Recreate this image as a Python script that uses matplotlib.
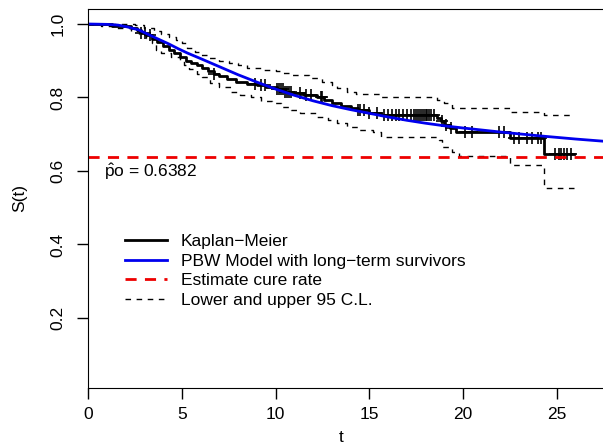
import numpy as np
import matplotlib
matplotlib.use("Agg")
import matplotlib.pyplot as plt
from matplotlib.lines import Line2D

plt.rcParams['font.family'] = ['Liberation Sans', 'DejaVu Sans']
plt.rcParams['mathtext.fontset'] = 'custom'
plt.rcParams['mathtext.rm'] = 'Liberation Sans'
plt.rcParams['mathtext.it'] = 'Liberation Sans'

# Kaplan-Meier step function (time of drop, survival after drop)
km_t = [0, 1.3, 2.3, 2.6, 2.8, 3.1, 3.4, 3.7, 4.0, 4.3, 4.6, 4.9, 5.2, 5.5, 5.8,
        6.1, 6.4, 6.7, 7.0, 7.4, 7.9, 8.5, 9.0, 9.5, 10.1, 10.5, 11.0, 11.5,
        12.2, 12.6, 13.0, 13.5, 14.0, 14.4, 15.0, 15.6, 18.6, 18.8, 19.0, 19.3,
        19.6, 22.5, 24.3, 25.9]
km_s = [1.0, 0.995, 0.99, 0.985, 0.975, 0.97, 0.96, 0.95, 0.94, 0.93, 0.92, 0.91,
        0.90, 0.895, 0.888, 0.88, 0.872, 0.864, 0.858, 0.85, 0.843, 0.838, 0.833,
        0.828, 0.822, 0.816, 0.812, 0.806, 0.80, 0.792, 0.785, 0.778, 0.772,
        0.765, 0.758, 0.752, 0.745, 0.735, 0.725, 0.717, 0.706, 0.689, 0.645, 0.645]

# censored times
cens_t = [2.8, 3.05, 3.3, 6.7, 8.9, 9.2, 9.45, 10.1, 10.2, 10.3, 10.4, 10.5, 10.6,
          10.7, 10.85, 11.3, 11.6, 11.9, 12.4, 12.5, 14.4, 14.5, 14.7, 15.0, 15.4,
          15.8, 16.0, 16.2, 16.4, 16.6, 16.8, 17.0, 17.2, 17.4, 17.5, 17.6, 17.7,
          17.8, 17.9, 18.0, 18.1, 18.2, 18.3, 18.45, 18.9, 19.1, 19.35, 20.1,
          20.5, 21.9, 22.2, 22.7, 23.0, 23.4, 23.7, 24.0, 24.15, 24.9, 25.1,
          25.25, 25.4, 25.55, 25.75]

# 95% confidence limits (step functions)
up_t = [0, 2.5, 3.0, 3.5, 3.9, 4.3, 4.7, 5.0, 5.3, 5.7, 6.0, 6.4, 7.0, 7.5, 8.0,
        8.5, 9.2, 10.0, 10.4, 10.8, 11.8, 12.5, 13.0, 13.3, 13.8, 14.3, 15.6,
        18.6, 19.0, 19.4, 22.5, 24.3, 25.9]
up_s = [1.0, 0.997, 0.99, 0.98, 0.972, 0.965, 0.957, 0.948, 0.935, 0.925, 0.916,
        0.907, 0.90, 0.894, 0.888, 0.88, 0.875, 0.872, 0.867, 0.861, 0.853, 0.842,
        0.835, 0.825, 0.815, 0.81, 0.80, 0.793, 0.785, 0.771, 0.76, 0.752, 0.752]
lo_t = [0, 0.7, 1.5, 2.3, 2.7, 3.1, 3.4, 3.6, 3.9, 4.4, 4.9, 5.1, 5.4, 5.8, 6.1,
        6.5, 7.0, 7.6, 8.1, 8.7, 9.2, 9.8, 10.3, 10.8, 11.3, 12.2, 12.8, 13.3,
        13.8, 14.4, 15.2, 15.6, 18.7, 18.9, 19.4, 19.8, 22.5, 24.3, 25.9]
lo_s = [1.0, 0.995, 0.99, 0.98, 0.972, 0.963, 0.948, 0.93, 0.92, 0.91, 0.90, 0.888,
        0.878, 0.865, 0.855, 0.84, 0.828, 0.815, 0.807, 0.80, 0.79, 0.785, 0.775,
        0.766, 0.758, 0.748, 0.74, 0.73, 0.72, 0.712, 0.705, 0.693, 0.684, 0.665,
        0.652, 0.64, 0.615, 0.554, 0.554]

# fitted PBW model with cure fraction
pbw_t = [0, 1.0, 1.6, 2.1, 2.7, 3.2, 3.7, 4.3, 4.8, 5.3, 6.0, 7.0, 8.0, 9.0, 10.0,
         11.0, 12.0, 13.0, 14.0, 15.0, 16.0, 17.0, 18.0, 19.0, 20.0, 22.0, 24.0,
         26.0, 28.0]
pbw_s = [1.0, 0.999, 0.997, 0.992, 0.984, 0.972, 0.96, 0.946, 0.933, 0.921, 0.906,
         0.884, 0.862, 0.842, 0.823, 0.806, 0.791, 0.778, 0.767, 0.757, 0.747,
         0.738, 0.73, 0.723, 0.717, 0.706, 0.696, 0.687, 0.679]

cure = 0.6382

W, H = 603, 447
fig = plt.figure(figsize=(W / 100, H / 100), dpi=100)
ax = fig.add_axes([88 / W, 59 / H, 525 / W, 379 / H])

ax.step(up_t, up_s, where='post', color='black', lw=1, ls=(0, (4, 4)))
ax.step(lo_t, lo_s, where='post', color='black', lw=1, ls=(0, (4, 4)))
ax.step(km_t, km_s, where='post', color='black', lw=2)
# censoring marks sit on the KM curve
km_t_arr = np.array(km_t)
km_s_arr = np.array(km_s)
cens_s = [km_s_arr[np.searchsorted(km_t_arr, c, side='right') - 1] for c in cens_t]
ax.plot(cens_t, cens_s, ls='none', marker='+', ms=9, mew=1.2, color='black')
ax.plot(pbw_t, pbw_s, color='#0000ee', lw=2)
ax.axhline(cure, color='#ee0000', lw=2, ls=(0, (4, 3)))

ax.text(0.85, 0.597, r'$\hat{\mathrm{p}}\mathrm{o}$ = 0.6382', fontsize=12.5,
        ha='left', va='center')

ax.set_xlim(0, 28)
ax.set_ylim(0.0095, 1.0408)
ax.set_xticks([0, 5, 10, 15, 20, 25])
ax.set_yticks([0.2, 0.4, 0.6, 0.8, 1.0])
ax.set_yticklabels(['0.2', '0.4', '0.6', '0.8', '1.0'], rotation=90, va='center')
ax.tick_params(direction='out', length=8, width=1, labelsize=12.5)
ax.tick_params(axis='y', pad=8)
ax.tick_params(axis='x', pad=6)
ax.set_ylabel('S(t)', fontsize=12.5, labelpad=17)
fig.text(341 / W, 1 - 438 / H, 't', fontsize=12.5, ha='center', va='center')

handles = [Line2D([], [], color='black', lw=2),
           Line2D([], [], color='#0000ee', lw=2),
           Line2D([], [], color='#ee0000', lw=2, ls=(0, (4, 3))),
           Line2D([], [], color='black', lw=1, ls=(0, (4, 4)))]
labels = ['Kaplan\u2212Meier', 'PBW Model with long\u2212term survivors',
          'Estimate cure rate', 'Lower and upper 95 C.L.']
fig.legend(handles, labels, loc='upper left', bbox_to_anchor=(125 / W, 1 - 234 / H),
           frameon=False, fontsize=12.5, handlelength=2.4, handletextpad=0.8,
           labelspacing=0.25, borderpad=0, borderaxespad=0)

fig.savefig('out.png', dpi=100)
